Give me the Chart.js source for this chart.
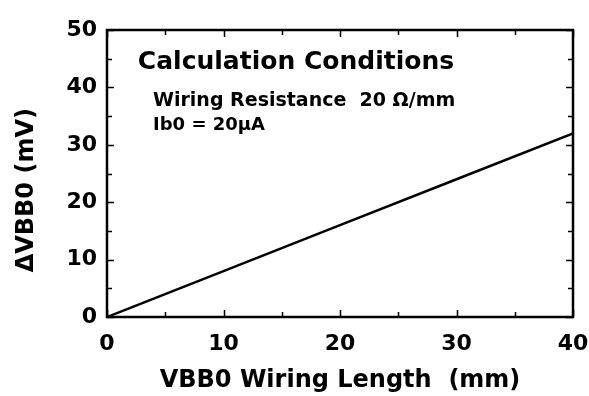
<!DOCTYPE html>
<html>
<head>
<meta charset="utf-8">
<script src="https://cdn.jsdelivr.net/npm/chart.js@4/dist/chart.umd.min.js"></script>
<style>
  html, body { margin: 0; padding: 0; background: #fff; }
  #wrap { width: 589px; height: 396px; }
</style>
</head>
<body>
<div id="wrap"><canvas id="c" width="589" height="396"></canvas></div>
<script>
// Data
const wiringLength = [0, 10, 20, 30, 40];      // mm
const deltaVBB0 = [0, 8, 16, 24, 32];          // mV
const xTicks = [0, 10, 20, 30, 40];
const yTicks = [0, 10, 20, 30, 40, 50];
const xTitle = 'VBB0 Wiring Length  (mm)';
const yTitle = '\u0394VBB0 (mV)    ';
const noteTitle = 'Calculation Conditions';
const noteLines = ['Wiring Resistance  20 \u03A9/mm', 'Ib0 = 20\u03BCA'];

const FONT = '"DejaVu Sans", sans-serif';
const INK = '#000';

const framePlugin = {
  id: 'frame',
  afterDatasetsDraw(chart) {
    const { ctx, chartArea: a, scales } = chart;
    const xs = scales.x, ys = scales.y;
    ctx.save();
    ctx.strokeStyle = INK;
    ctx.lineWidth = 2.5;
    ctx.strokeRect(a.left, a.top, a.right - a.left, a.bottom - a.top);
    ctx.lineWidth = 1.5;
    for (let v = xs.min; v <= xs.max; v += 5) {
      const px = Math.round(xs.getPixelForValue(v)) + 0.5;
      const len = (v % 10 === 0) ? 7 : 5;
      ctx.beginPath();
      ctx.moveTo(px, a.bottom); ctx.lineTo(px, a.bottom - len);
      ctx.moveTo(px, a.top); ctx.lineTo(px, a.top + len);
      ctx.stroke();
    }
    for (let v = ys.min; v <= ys.max; v += 5) {
      const py = Math.round(ys.getPixelForValue(v)) + 0.5;
      const len = (v % 10 === 0) ? 7 : 5;
      ctx.beginPath();
      ctx.moveTo(a.left, py); ctx.lineTo(a.left + len, py);
      ctx.moveTo(a.right, py); ctx.lineTo(a.right - len, py);
      ctx.stroke();
    }
    ctx.fillStyle = INK;
    ctx.textBaseline = 'middle';
    ctx.textAlign = 'left';
    ctx.font = 'bold 25px ' + FONT;
    ctx.fillText(noteTitle, xs.getPixelForValue(2.65), ys.getPixelForValue(44.4));
    ctx.font = 'bold 19px ' + FONT;
    ctx.fillText(noteLines[0], xs.getPixelForValue(3.95), ys.getPixelForValue(37.6));
    ctx.font = 'bold 18px ' + FONT;
    ctx.fillText(noteLines[1], xs.getPixelForValue(3.95), ys.getPixelForValue(33.4));
    ctx.restore();
  }
};

new Chart(document.getElementById('c'), {
  type: 'line',
  data: {
    datasets: [{
      data: wiringLength.map((x, i) => ({ x, y: deltaVBB0[i] })),
      borderColor: INK,
      borderWidth: 2.5,
      pointRadius: 0,
      tension: 0,
      fill: false
    }]
  },
  options: {
    responsive: false,
    animation: false,
    layout: { padding: { top: 30, right: 0, left: 0, bottom: 0 } },
    plugins: { legend: { display: false }, tooltip: { enabled: false } },
    scales: {
      x: {
        type: 'linear', min: 0, max: 40,
        afterBuildTicks: s => { s.ticks = xTicks.map(v => ({ value: v })); },
        afterFit: s => { s.height = 79; s.paddingRight = 16; s.paddingLeft = 0; },
        grid: { display: false, drawTicks: false },
        border: { display: false },
        ticks: { color: INK, padding: 14, font: { family: FONT, size: 22, weight: 'bold' }, maxRotation: 0 },
        title: { display: true, text: xTitle, color: INK, padding: { top: 0, bottom: 1 }, font: { family: FONT, size: 24, weight: 'bold' } }
      },
      y: {
        type: 'linear', min: 0, max: 50,
        afterBuildTicks: s => { s.ticks = yTicks.map(v => ({ value: v })); },
        afterFit: s => { s.width = 107; },
        grid: { display: false, drawTicks: false },
        border: { display: false },
        ticks: { color: INK, padding: 10, font: { family: FONT, size: 22, weight: 'bold' } },
        title: { display: true, text: yTitle, color: INK, padding: { top: 12, bottom: 0 }, font: { family: FONT, size: 24, weight: 'bold' } }
      }
    }
  },
  plugins: [framePlugin]
});
</script>
</body>
</html>
